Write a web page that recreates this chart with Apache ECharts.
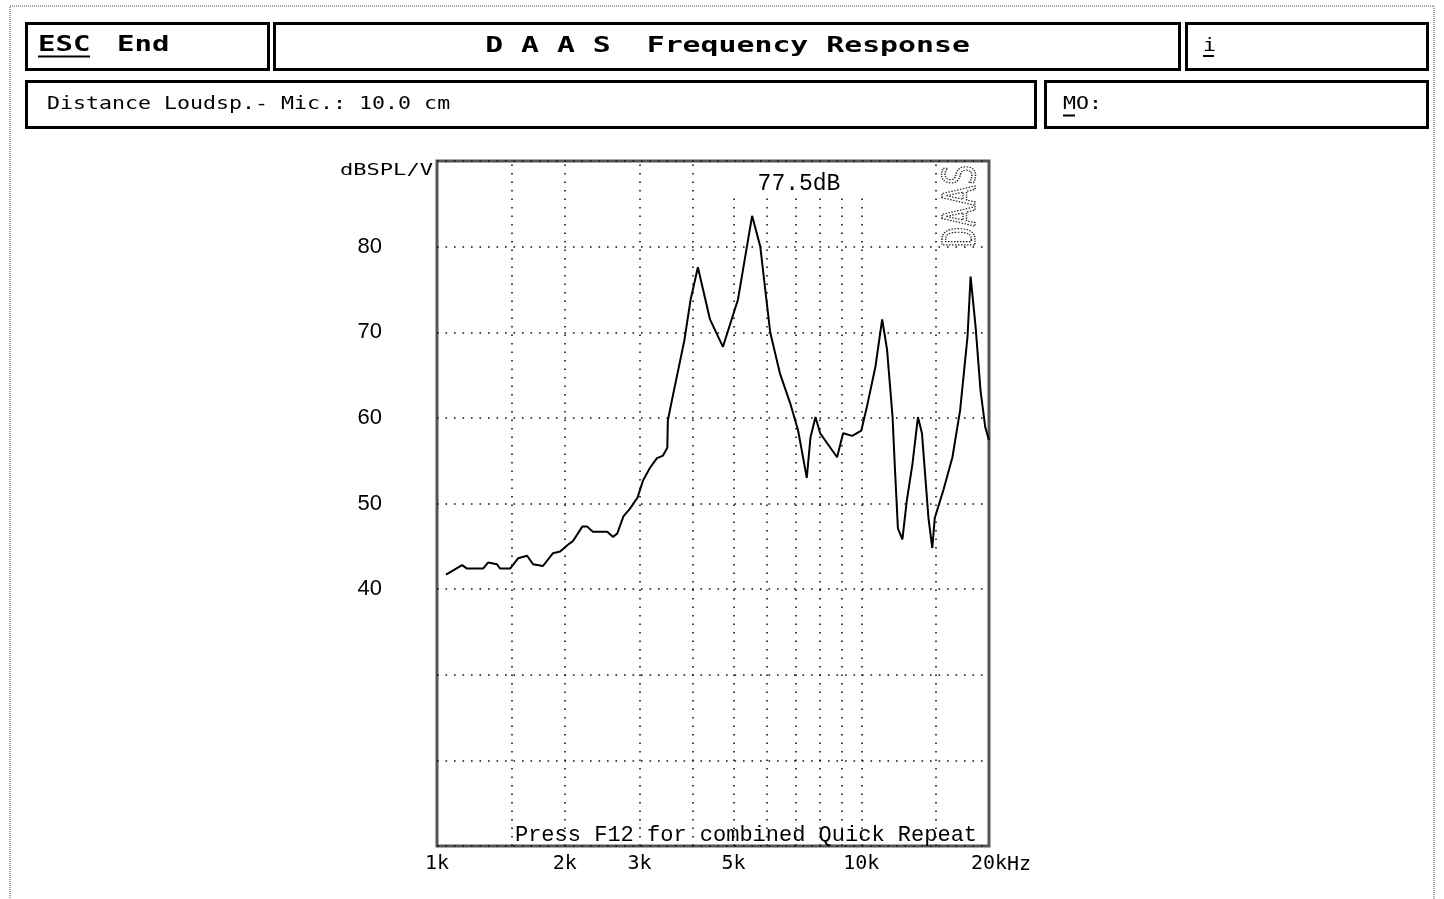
<!DOCTYPE html>
<html><head><meta charset="utf-8">
<script src="https://cdn.jsdelivr.net/npm/echarts@6/dist/echarts.min.js"></script>
<style>html,body{margin:0;padding:0;background:#fff;}#c{width:1444px;height:899px;}</style>
</head><body><div id="c"></div>
<script>
// ---- data ----
const freqHz = [1050, 1146, 1177, 1284, 1319, 1385, 1408, 1487, 1553, 1631, 1684, 1777, 1877, 1951, 2025, 2090, 2200, 2260, 2330, 2520, 2600, 2660, 2750, 2850, 2970, 3060, 3180, 3300, 3410, 3490, 3500, 3580, 3830, 3960, 4120, 4400, 4720, 5120, 5530, 5780, 6100, 6430, 6800, 7100, 7440, 7590, 7800, 8000, 8770, 9060, 9520, 10000, 10300, 10800, 11200, 11500, 11850, 12000, 12200, 12500, 12800, 13200, 13600, 13900, 14100, 14400, 14700, 14900, 15600, 16400, 17100, 17800, 18100, 18600, 19100, 19600, 20000];
const splDb = [41.7, 42.8, 42.4, 42.4, 43.1, 42.9, 42.4, 42.4, 43.6, 43.9, 42.9, 42.7, 44.2, 44.4, 45.1, 45.6, 47.3, 47.3, 46.7, 46.7, 46.1, 46.5, 48.5, 49.4, 50.7, 52.7, 54.2, 55.3, 55.6, 56.5, 59.7, 62.1, 69.1, 73.8, 77.6, 71.5, 68.3, 73.8, 83.6, 80.0, 70.0, 65.2, 61.7, 58.5, 53.0, 57.7, 60.1, 58.2, 55.4, 58.2, 57.9, 58.5, 61.2, 66.0, 71.5, 68.0, 60.1, 54.2, 47.1, 45.8, 50.3, 54.6, 60.1, 58.2, 54.2, 48.3, 44.8, 48.3, 51.5, 55.4, 60.9, 69.5, 76.5, 70.6, 63.2, 58.9, 57.4];
const gridFreqs = [1500, 2000, 3000, 4000, 5000, 6000, 7000, 8000, 9000, 10000, 15000];
const tickFreqs = [1000, 2000, 3000, 5000, 10000, 20000];
const tickLabels = ['1k', '2k', '3k', '5k', '10k', '20k'];
const yLabelValues = [40, 50, 60, 70, 80];
const yUnit = 'dBSPL/V';
const xUnit = 'Hz';
const levelText = '77.5dB';
const footerText = 'Press F12 for combined Quick Repeat';

const chart = echarts.init(document.getElementById('c'), null, {renderer: 'canvas'});

const gridLineStyle = {color: '#111', width: 1.6, type: [1.6, 6.9]};
const markData = gridFreqs.map(f => ({xAxis: f, lineStyle: gridLineStyle, label: {show: false}}))
  .concat(tickFreqs.map((f, i) => ({
    xAxis: f,
    lineStyle: {color: 'rgba(0,0,0,0)', width: 0},
    label: {show: true, position: 'start', distance: 8, formatter: tickLabels[i],
      color: '#000', fontFamily: 'DejaVu Sans Mono', fontSize: 20}
  })));

const boldFont = 'bold 21px "DejaVu Sans Mono"';
const regFont = '18px "DejaVu Sans Mono"';
function box(x, y, w, h) {
  return {type: 'rect', shape: {x, y, width: w, height: h}, style: {fill: 'none', stroke: '#000', lineWidth: 3}, z: 20};
}
function txt(x, y, text, font, sx, align) {
  return {type: 'text', x, y, scaleX: sx, z: 21,
    style: {text, font, fill: '#000', textAlign: align || 'left', verticalAlign: 'middle', textVerticalAlign: 'middle'}};
}
function uline(x1, x2, y) {
  return {type: 'line', shape: {x1, y1: y, x2, y2: y}, style: {stroke: '#000', lineWidth: 2}, z: 21};
}

chart.setOption({
  animation: false,
  backgroundColor: '#fff',
  grid: {left: 437, right: 455, top: 161, bottom: 53, show: true, borderColor: '#555', borderWidth: 3, backgroundColor: 'transparent'},
  xAxis: {type: 'log', logBase: 10, min: 1000, max: 20000,
    axisLine: {show: false}, axisTick: {show: false}, axisLabel: {show: false}, splitLine: {show: false}},
  yAxis: {type: 'value', min: 10, max: 90, interval: 10,
    axisLine: {show: false}, axisTick: {show: false},
    axisLabel: {margin: 55, color: '#000', fontFamily: 'Liberation Sans', fontSize: 22, padding: [0, 0, 14, 0],
      formatter: v => (yLabelValues.indexOf(v) >= 0 ? String(v) : '')},
    splitLine: {show: true, lineStyle: gridLineStyle}},
  series: [{
    type: 'line', showSymbol: false, symbol: 'none', z: 6,
    lineStyle: {color: '#000', width: 2},
    data: freqHz.map((f, i) => [f, splDb[i]]),
    markLine: {silent: true, symbol: 'none', z: 1, animation: false, data: markData}
  }],
  graphic: [
    {type: 'rect', shape: {x: 10, y: 6, width: 1424, height: 900}, style: {fill: 'none', stroke: '#888', lineWidth: 1.5, lineDash: [1, 1]}, z: 19},
    box(26.5, 23.5, 242, 46),
    box(274.5, 23.5, 905, 46),
    box(1186.5, 23.5, 241, 46),
    box(26.5, 81.5, 1009, 46),
    box(1045.5, 81.5, 382, 46),
    txt(38, 46, 'ESC', boldFont, 1.38),
    uline(38, 90, 56.5),
    txt(117, 46, 'End', boldFont, 1.38),
    txt(727.5, 47, 'D A A S  Frequency Response', boldFont, 1.42, 'center'),
    txt(1203, 46, 'i', regFont, 1.2),
    uline(1203, 1214, 56),
    txt(47, 104, 'Distance Loudsp.- Mic.: 10.0 cm', regFont, 1.2),
    txt(1063, 104, 'MO:', regFont, 1.2),
    uline(1063, 1075, 115.5),
    txt(433, 171, yUnit, '16px "DejaVu Sans Mono"', 1.38, 'right'),
    {type: 'rect', shape: {x: 726, y: 163, width: 140, height: 33}, style: {fill: '#fff'}, z: 15},
    {type: 'text', x: 799, y: 184, z: 21, style: {text: levelText, font: '23px "Liberation Mono"', fill: '#000', textAlign: 'center', verticalAlign: 'middle'}},
    {type: 'text', x: 746, y: 835, z: 21, style: {text: footerText, font: '22px "Liberation Mono"', fill: '#000', textAlign: 'center', verticalAlign: 'middle'}},
    {type: 'text', x: 1007, y: 865, z: 21, style: {text: xUnit, font: '20px "DejaVu Sans Mono"', fill: '#000', textAlign: 'left', verticalAlign: 'middle'}},
    {type: 'text', x: 964, y: 206, rotation: Math.PI / 2, scaleX: 0.78, z: 21,
      style: {text: 'DAAS', font: '44px "DejaVu Sans Mono"', fill: 'rgba(0,0,0,0)', stroke: '#222', lineWidth: 1.5, lineDash: [1.5, 1.5], textAlign: 'center', verticalAlign: 'middle'}}
  ]
});
</script>
</body></html>
